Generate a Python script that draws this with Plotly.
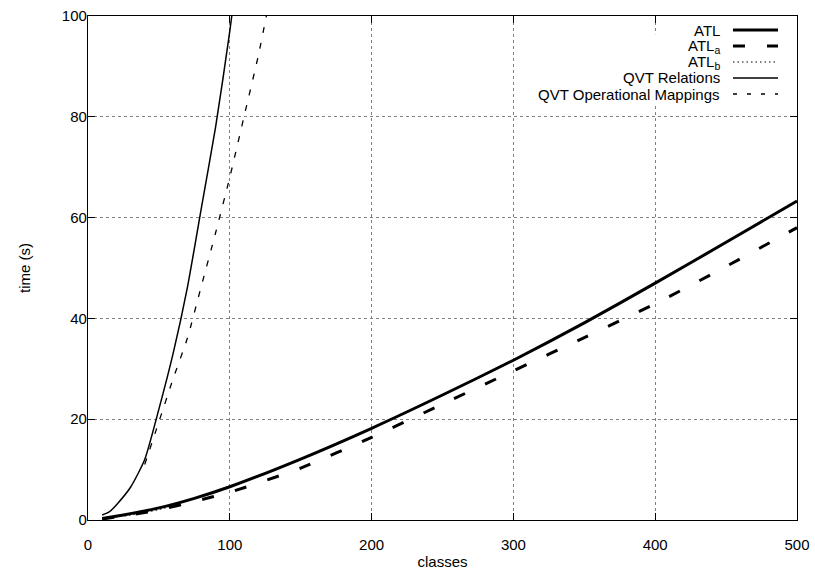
import plotly.graph_objects as go

# ---- data ----
atl_x = [10, 25, 50, 75, 100, 150, 200, 250, 300, 350, 400, 450, 500]
atl_y = [0.3, 1.0, 2.4, 4.3, 6.6, 12.1, 18.2, 24.8, 31.7, 39.1, 47.0, 55.1, 63.3]

atla_x = [10, 25, 50, 75, 100, 150, 200, 250, 300, 350, 400, 450, 500]
atla_y = [0.2, 0.8, 2.0, 3.7, 5.5, 10.3, 16.4, 23.0, 29.6, 36.2, 42.9, 50.3, 58.0]

atlb_x = [10, 20, 30, 40, 50, 60]
atlb_y = [0.3, 0.6, 1.0, 1.5, 2.1, 2.8]

qvtr_x = [10, 15, 20, 30, 40, 50, 60, 70, 80, 90, 100, 110]
qvtr_y = [1.0, 1.6, 3.0, 6.5, 12.0, 22.0, 33.0, 46.0, 62.0, 78.0, 97.0, 120.0]

qvto_x = [40, 50, 60, 70, 80, 90, 100, 110, 120, 130]
qvto_y = [11.0, 19.5, 28.0, 36.0, 46.5, 57.0, 68.0, 80.0, 92.0, 106.0]

x_ticks = [0, 100, 200, 300, 400, 500]
y_ticks = [0, 20, 40, 60, 80, 100]

FONT = "Liberation Sans, Arial, Helvetica, sans-serif"

fig = go.Figure()

series = [
    # name, x, y, width, dash
    ("ATL_b", atlb_x, atlb_y, 1.2, "1.5px,3px"),
    ("ATL_a", atla_x, atla_y, 3, "12px,22px"),
    ("QVT Operational Mappings", qvto_x, qvto_y, 1.3, "6px,10px"),
    ("QVT Relations", qvtr_x, qvtr_y, 1.5, "solid"),
    ("ATL", atl_x, atl_y, 3, "solid"),
]

for name, xs, ys, w, dash in series:
    fig.add_trace(go.Scatter(
        x=xs, y=ys, mode="lines", name=name, showlegend=False,
        line=dict(color="black", width=w, dash=dash, shape="spline", smoothing=0.6),
    ))

# ---- gnuplot-style key: text right-aligned, sample on the right ----
legend_order = [
    ("ATL", 3, "solid", 0),
    ("ATL<sub>a</sub>", 3, "12px,22px", -1),
    ("ATL<sub>b</sub>", 1.2, "1.5px,3px", 0),
    ("QVT Relations", 1.5, "solid", 0),
    ("QVT Operational Mappings", 1.3, "4px,10px", 0),
]
# opaque key background
fig.add_shape(type="rect", xref="paper", yref="paper",
              x0=0.64, x1=0.995, y0=0.826, y1=0.964,
              fillcolor="white", line=dict(width=0), layer="above")
row_y = [0.9722, 0.9405, 0.9087, 0.8770, 0.8452]
for (lab, w, dash, ys), yy in zip(legend_order, row_y):
    fig.add_annotation(xref="paper", yref="paper", x=0.8942, y=yy,
                       text=lab, showarrow=False, xanchor="right", yanchor="middle",
                       yshift=ys, font=dict(family=FONT, size=15, color="black"))
    fig.add_shape(type="line", xref="paper", yref="paper",
                  x0=0.9097, x1=0.9732, y0=yy, y1=yy,
                  line=dict(color="black", width=w, dash=dash), layer="above")

axis_common = dict(
    showline=True, linecolor="black", linewidth=1.2, mirror="ticks",
    ticks="inside", ticklen=7, tickwidth=1, tickcolor="black",
    showgrid=True, gridcolor="#808080", griddash="dot", gridwidth=1,
    zeroline=False, automargin=False, ticklabeloverflow="allow",
    tickfont=dict(family=FONT, size=15, color="black"),
)

fig.update_xaxes(range=[0, 500], tickvals=x_ticks, ticktext=[str(v) for v in x_ticks],
                 ticklabelstandoff=11,
                 title=dict(text="classes", font=dict(family=FONT, size=15, color="black"), standoff=4),
                 **axis_common)
fig.update_yaxes(range=[0, 100], tickvals=y_ticks, ticktext=[str(v) for v in y_ticks],
                 ticklabelstandoff=-3,
                 title=dict(text="time (s)", font=dict(family=FONT, size=15, color="black"), standoff=27),
                 **axis_common)

fig.update_layout(
    width=815, height=572,
    margin=dict(l=88, r=18, t=16, b=52),
    paper_bgcolor="white", plot_bgcolor="white",
    font=dict(family=FONT, size=15, color="black"),
    showlegend=False,
)

# remove the default 8px page margin so the figure fills the window exactly
fig.write_html("out.html",
               config={"displayModeBar": False},
               post_script="document.body.style.margin='0';document.body.style.overflow='hidden';")
